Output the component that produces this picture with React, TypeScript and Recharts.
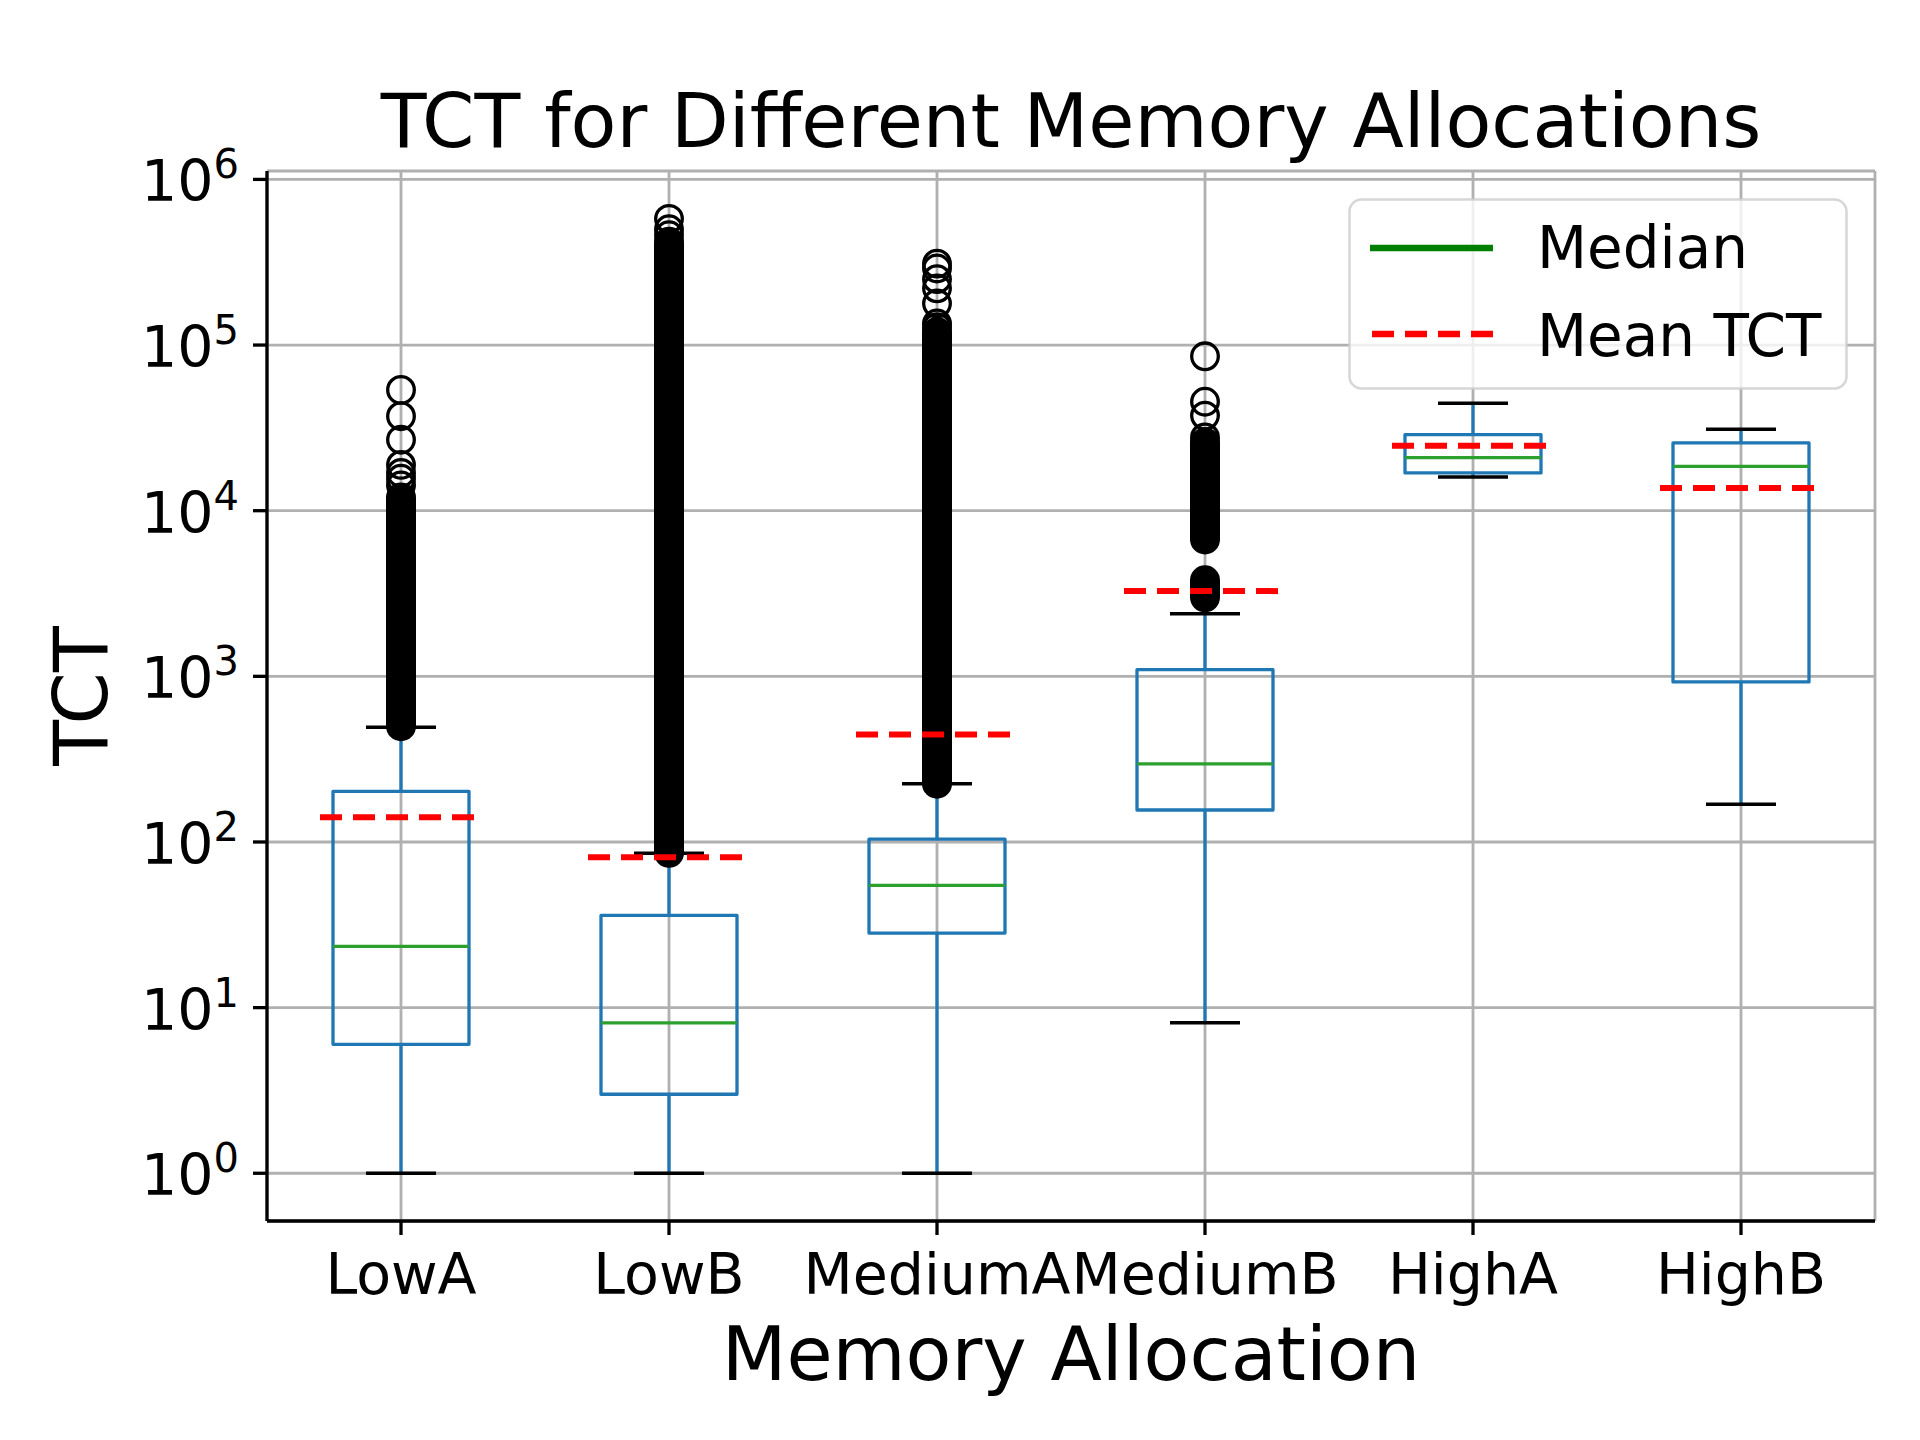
import React from 'react';
import { Bar, CartesianGrid, ComposedChart, Scatter, XAxis, YAxis } from 'recharts';

const categories = ['LowA', 'LowB', 'MediumA', 'MediumB', 'HighA', 'HighB'];
const whiskerLow = [1, 1, 1, 8.1, 16000, 169];
const q1 = [6.0, 3.0, 28.2, 156, 16900, 925];
const median = [23.4, 8.1, 54.7, 296, 20900, 18500];
const q3 = [202, 36, 104, 1097, 28800, 25700];
const whiskerHigh = [492, 85.5, 225, 2390, 44500, 31000];
const meanTct = [141, 80.8, 445, 3270, 24700, 13700];

// fliers packed so tightly they merge into one solid column
const denseLow = [500, 86, 225, 6700, null, null];
const denseHigh = [12000, 420000, 120000, 25800, null, null];
const dense2Low = [null, null, null, 3000, null, null];
const dense2High = [null, null, null, 3800, null, null];

// fliers that can still be told apart
const lowAFliers = [53600, 37200, 26800, 18900, 16900, 15600, 14200];
const lowBFliers = [578000, 500000, 460000];
const mediumAFliers = [310000, 290000, 250000, 220000, 178000, 135000, 128000];
const mediumBFliers = [85500, 45500, 37500, 27700];
const highAFliers: number[] = [];
const highBFliers: number[] = [];

const yTicks = [1, 10, 100, 1000, 10000, 100000, 1000000];
const yTickExponents = ['0', '1', '2', '3', '4', '5', '6'];
const minorMantissas = [2, 3, 4, 5, 6, 7, 8, 9];
const minorDecades = [0.1, 1, 10, 100, 1000, 10000, 100000];
const Y_DOMAIN: [number, number] = [0.515, 1124000];

const FONT = '"DejaVu Sans", sans-serif';
const BLUE = '#1f77b4';
const BOX_W = 136;
const CAP_W = 70;
const MEAN_W = 162;
const MARGIN = { top: 171, right: 45, bottom: 119, left: 117 };

const minorTicks = minorDecades
  .flatMap((d) => minorMantissas.map((m) => m * d))
  .filter((v) => v > Y_DOMAIN[0] && v < Y_DOMAIN[1]);

const data = categories.map((name, i) => ({
  name,
  lower: [whiskerLow[i], q1[i]],
  box: [q1[i], q3[i]],
  upper: [q3[i], whiskerHigh[i]],
  median: median[i],
  mean: meanTct[i],
  dense: denseLow[i] == null ? null : [denseLow[i], denseHigh[i]],
  dense2: dense2Low[i] == null ? null : [dense2Low[i], dense2High[i]],
}));

const flierLists = [lowAFliers, lowBFliers, mediumAFliers, mediumBFliers, highAFliers, highBFliers];
const fliers = flierLists.flatMap((list, i) => list.map((value) => ({ name: categories[i], value })));

function span(props: any) {
  const { x, y, width, height } = props;
  if (![x, y, width, height].every((v) => Number.isFinite(v))) return null;
  return { cx: x + width / 2, top: Math.min(y, y + height), bottom: Math.max(y, y + height) };
}

function LowerWhisker(props: any) {
  const s = span(props);
  if (!s) return <g />;
  return (
    <g>
      <line x1={s.cx} x2={s.cx} y1={s.top} y2={s.bottom} stroke={BLUE} strokeWidth={3.3} />
      <line x1={s.cx - CAP_W / 2} x2={s.cx + CAP_W / 2} y1={s.bottom} y2={s.bottom} stroke="#000" strokeWidth={3.5} />
    </g>
  );
}

function UpperWhisker(props: any) {
  const s = span(props);
  if (!s) return <g />;
  return (
    <g>
      <line x1={s.cx} x2={s.cx} y1={s.top} y2={s.bottom} stroke={BLUE} strokeWidth={3.3} />
      <line x1={s.cx - CAP_W / 2} x2={s.cx + CAP_W / 2} y1={s.top} y2={s.top} stroke="#000" strokeWidth={3.5} />
    </g>
  );
}

function BoxShape(props: any) {
  const s = span(props);
  if (!s) return <g />;
  return (
    <rect
      x={s.cx - BOX_W / 2}
      y={s.top}
      width={BOX_W}
      height={s.bottom - s.top}
      fill="none"
      stroke={BLUE}
      strokeWidth={3.3}
      strokeLinejoin="round"
    />
  );
}

function DenseFliers(props: any) {
  const s = span(props);
  if (!s || props.payload == null) return <g />;
  const r = 15;
  return <rect x={s.cx - r} y={s.top - r} width={2 * r} height={s.bottom - s.top + 2 * r} rx={r} ry={r} fill="#000" />;
}

function MedianMark({ cx, cy }: any) {
  return <line x1={cx - BOX_W / 2} x2={cx + BOX_W / 2} y1={cy} y2={cy} stroke="#2ca02c" strokeWidth={3.3} />;
}

function MeanMark({ cx, cy }: any) {
  return (
    <line x1={cx - MEAN_W / 2} x2={cx + MEAN_W / 2} y1={cy} y2={cy} stroke="#ff0000" strokeWidth={6} strokeDasharray="22 11" />
  );
}

function FlierMark({ cx, cy }: any) {
  return <circle cx={cx} cy={cy} r={13.3} fill="none" stroke="#000" strokeWidth={3.3} />;
}

function XTick({ x, y, payload }: any) {
  return (
    <text x={x} y={y + 57} textAnchor="middle" fontFamily={FONT} fontSize={57} fill="#000">
      {payload.value}
    </text>
  );
}

function YTick({ x, y, payload }: any) {
  const exp = yTickExponents[yTicks.indexOf(payload.value)];
  return (
    <text x={x - 12} y={y + 22} textAnchor="end" fontFamily={FONT} fontSize={57} fill="#000">
      10
      <tspan dy={-23} fontSize={40}>
        {exp}
      </tspan>
    </text>
  );
}

function Overlay() {
  const plotCenter = MARGIN.left + 150 + (1920 - MARGIN.left - 150 - MARGIN.right) / 2;
  return (
    <svg width={1920} height={1440} style={{ position: 'absolute', left: 0, top: 0, pointerEvents: 'none' }}>
      <text x={plotCenter} y={147} textAnchor="middle" fontFamily={FONT} fontSize={75} fill="#000">
        TCT for Different Memory Allocations
      </text>
      <g transform="translate(1348 198)">
        <rect x={1.5} y={1.5} width={497} height={189} rx={12} fill="rgba(255,255,255,0.8)" stroke="#cccccc" strokeOpacity={0.8} strokeWidth={2.5} />
        <line x1={22} x2={145} y1={50} y2={50} stroke="#008000" strokeWidth={6.5} />
        <text x={189} y={70} fontFamily={FONT} fontSize={58} fill="#000">Median</text>
        <line x1={24} x2={145} y1={136} y2={136} stroke="#ff0000" strokeWidth={6.5} strokeDasharray="22 11" />
        <text x={189} y={158} fontFamily={FONT} fontSize={58} fill="#000">Mean TCT</text>
      </g>
    </svg>
  );
}

const axisStroke = { stroke: '#000', strokeWidth: 3.3 };

export default function App() {
  return (
    <div style={{ position: 'absolute', left: 0, top: 0, width: 1920, height: 1440, background: '#fff' }}>
      <ComposedChart width={1920} height={1440} data={data} margin={MARGIN} barSize={BOX_W} barGap={-BOX_W}>
        <CartesianGrid stroke="#b0b0b0" strokeWidth={2.8} />
        <XAxis
          dataKey="name"
          type="category"
          allowDuplicatedCategory={false}
          interval={0}
          height={100}
          tickSize={14}
          tickLine={axisStroke}
          axisLine={axisStroke}
          tick={(p: any) => <XTick {...p} />}
          label={{
            content: ({ viewBox }: any) => (
              <text x={viewBox.x + viewBox.width / 2} y={viewBox.y + 159} textAnchor="middle" fontFamily={FONT} fontSize={75} fill="#000">
                Memory Allocation
              </text>
            ),
          }}
        />
        <XAxis
          xAxisId="frame"
          orientation="top"
          dataKey="name"
          type="category"
          allowDuplicatedCategory={false}
          height={0}
          tick={false}
          tickLine={false}
          axisLine={axisStroke}
        />
        <YAxis
          scale="log"
          domain={Y_DOMAIN}
          allowDataOverflow
          ticks={yTicks}
          interval={0}
          width={150}
          tickSize={14}
          tickLine={axisStroke}
          axisLine={axisStroke}
          tick={(p: any) => <YTick {...p} />}
          label={{
            content: ({ viewBox }: any) => {
              const cx = 107;
              const cy = viewBox.y + viewBox.height / 2;
              return (
                <text x={cx} y={cy} transform={`rotate(-90 ${cx} ${cy})`} textAnchor="middle" fontFamily={FONT} fontSize={75} fill="#000">
                  TCT
                </text>
              );
            },
          }}
        />
        <YAxis
          yAxisId="minor"
          scale="log"
          domain={Y_DOMAIN}
          allowDataOverflow
          ticks={minorTicks}
          interval={0}
          width={0}
          tickSize={8}
          tick={false}
          tickLine={{ stroke: '#000', strokeWidth: 2.5 }}
          axisLine={false}
        />
        <YAxis yAxisId="frame" orientation="right" width={0} tick={false} tickLine={false} axisLine={axisStroke} />
        <Bar dataKey="lower" shape={(p: any) => <LowerWhisker {...p} />} isAnimationActive={false} />
        <Bar dataKey="upper" shape={(p: any) => <UpperWhisker {...p} />} isAnimationActive={false} />
        <Bar dataKey="box" shape={(p: any) => <BoxShape {...p} />} isAnimationActive={false} />
        <Bar dataKey="dense" shape={(p: any) => <DenseFliers {...p} payload={p.payload?.dense} />} isAnimationActive={false} />
        <Bar dataKey="dense2" shape={(p: any) => <DenseFliers {...p} payload={p.payload?.dense2} />} isAnimationActive={false} />
        <Scatter dataKey="median" shape={(p: any) => <MedianMark {...p} />} isAnimationActive={false} />
        <Scatter data={fliers} dataKey="value" shape={(p: any) => <FlierMark {...p} />} isAnimationActive={false} />
        <Scatter dataKey="mean" shape={(p: any) => <MeanMark {...p} />} isAnimationActive={false} />
      </ComposedChart>
      <Overlay />
    </div>
  );
}
